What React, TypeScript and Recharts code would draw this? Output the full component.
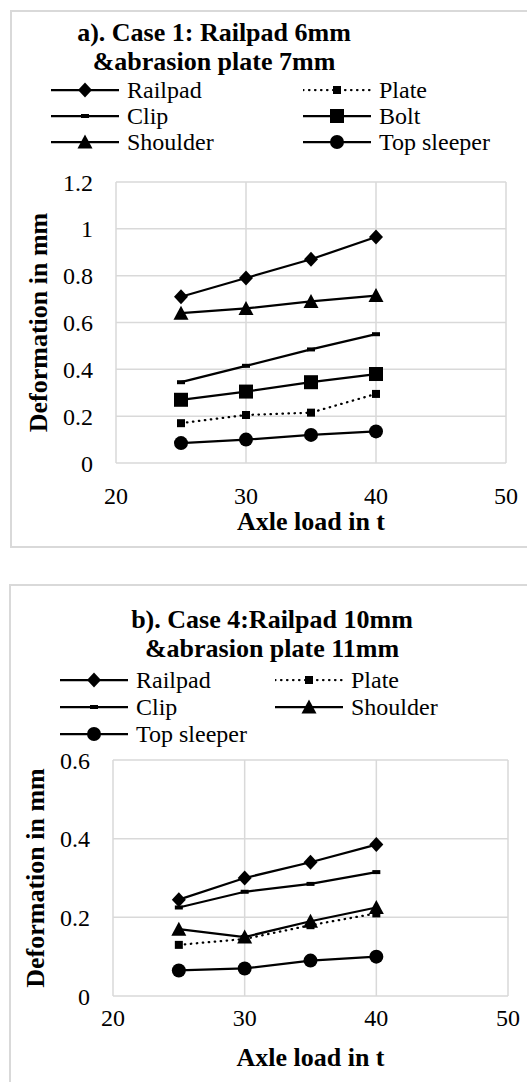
import React from "react";
import { LineChart, Line, XAxis, YAxis, CartesianGrid, Legend } from "recharts";

// axle loads (t)
const loads = [25, 30, 35, 40];
const xTicks = [20, 30, 40, 50];

// a) Case 1: railpad 6mm & abrasion plate 7mm
const railpadA = [0.71, 0.79, 0.87, 0.965];
const plateA = [0.17, 0.205, 0.215, 0.295];
const clipA = [0.345, 0.415, 0.485, 0.55];
const boltA = [0.27, 0.305, 0.345, 0.38];
const shoulderA = [0.64, 0.66, 0.69, 0.715];
const topSleeperA = [0.085, 0.1, 0.12, 0.135];
const yTicksA = [0, 0.2, 0.4, 0.6, 0.8, 1, 1.2];

// b) Case 4: railpad 10mm & abrasion plate 11mm
const railpadB = [0.245, 0.3, 0.34, 0.385];
const plateB = [0.13, 0.145, 0.18, 0.21];
const clipB = [0.225, 0.265, 0.285, 0.315];
const shoulderB = [0.17, 0.15, 0.19, 0.225];
const topSleeperB = [0.065, 0.07, 0.09, 0.1];
const yTicksB = [0, 0.2, 0.4, 0.6];

const FONT = "'Times New Roman', Times, 'Liberation Serif', Tinos, 'Nimbus Roman', 'Noto Serif', FreeSerif, 'DejaVu Serif', serif";
const GRID = "#d9d9d9";

type Shape = "diamond" | "smallSquare" | "dash" | "square" | "triangle" | "circle";

interface SeriesDef {
  key: string;
  name: string;
  values: number[];
  shape: Shape;
  dotted?: boolean;
}

const seriesA: SeriesDef[] = [
  { key: "railpad", name: "Railpad", values: railpadA, shape: "diamond" },
  { key: "plate", name: "Plate", values: plateA, shape: "smallSquare", dotted: true },
  { key: "clip", name: "Clip", values: clipA, shape: "dash" },
  { key: "bolt", name: "Bolt", values: boltA, shape: "square" },
  { key: "shoulder", name: "Shoulder", values: shoulderA, shape: "triangle" },
  { key: "topSleeper", name: "Top sleeper", values: topSleeperA, shape: "circle" },
];

const seriesB: SeriesDef[] = [
  { key: "railpad", name: "Railpad", values: railpadB, shape: "diamond" },
  { key: "plate", name: "Plate", values: plateB, shape: "smallSquare", dotted: true },
  { key: "clip", name: "Clip", values: clipB, shape: "dash" },
  { key: "shoulder", name: "Shoulder", values: shoulderB, shape: "triangle" },
  { key: "topSleeper", name: "Top sleeper", values: topSleeperB, shape: "circle" },
];

function buildRows(series: SeriesDef[]) {
  return loads.map((load, i) => {
    const row: Record<string, number> = { load };
    series.forEach((s) => (row[s.key] = s.values[i]));
    return row;
  });
}

function Marker({ shape, cx, cy }: { shape: Shape; cx: number; cy: number }) {
  switch (shape) {
    case "diamond":
      return <polygon points={`${cx},${cy - 7.5} ${cx + 7},${cy} ${cx},${cy + 7.5} ${cx - 7},${cy}`} fill="#000" />;
    case "smallSquare":
      return <rect x={cx - 4} y={cy - 4} width={8} height={8} fill="#000" />;
    case "dash":
      return <rect x={cx - 4} y={cy - 2} width={8} height={4} fill="#000" />;
    case "square":
      return <rect x={cx - 7} y={cy - 7} width={14} height={14} fill="#000" />;
    case "triangle":
      return <polygon points={`${cx},${cy - 7.5} ${cx + 7.5},${cy + 6.5} ${cx - 7.5},${cy + 6.5}`} fill="#000" />;
    default:
      return <circle cx={cx} cy={cy} r={7} fill="#000" />;
  }
}

interface PanelProps {
  series: SeriesDef[];
  yMax: number;
  yTicks: number[];
  top: number;
  height: number;
  plotTop: number;
  plotBottom: number;
  plotLeft: number;
  plotRight: number;
  frame: { left: number; top: number; height: number };
  title: string[];
  titleX: number;
  titleBaseline: number;
  legendCols: number[];
  legendRows: number[];
  xTickMargin: number;
  xLabelDy: number;
  yLabelX: number;
}

function Panel(p: PanelProps) {
  const data = buildRows(p.series);
  const width = 527;
  const order = (key: string) => p.series.findIndex((s) => s.key === key);
  return (
    <>
      <div
        style={{
          position: "absolute",
          left: p.frame.left,
          top: p.frame.top,
          width: 600,
          height: p.frame.height,
          border: `2px solid ${GRID}`,
          boxSizing: "border-box",
        }}
      />
      <div
        style={{
          position: "absolute",
          left: p.titleX - 200,
          top: p.titleBaseline - 23.3,
          width: 400,
          textAlign: "center",
          fontFamily: FONT,
          fontWeight: "bold",
          fontSize: 26,
          lineHeight: "29px",
          color: "#000",
        }}
      >
        {p.title.map((t) => (
          <div key={t}>{t}</div>
        ))}
      </div>
      <div style={{ position: "absolute", left: 0, top: p.top }}>
        <LineChart
          width={width}
          height={p.height}
          data={data}
          margin={{ top: p.plotTop - p.top, right: width - p.plotRight, left: 0, bottom: 0 }}
        >
          <CartesianGrid stroke={GRID} strokeWidth={1.5} />
          <XAxis
            dataKey="load"
            type="number"
            domain={[20, 50]}
            ticks={xTicks}
            interval={0}
            axisLine={false}
            tickLine={false}
            tickSize={0}
            tickMargin={p.xTickMargin}
            height={p.top + p.height - p.plotBottom}
            tick={{ fontSize: 24, fill: "#000", fontFamily: FONT }}
            label={{
              content: ({ viewBox }: any) => (
                <text
                  x={viewBox.x + viewBox.width / 2}
                  y={viewBox.y + p.xLabelDy}
                  textAnchor="middle"
                  fontFamily={FONT}
                  fontWeight="bold"
                  fontSize={26}
                  fill="#000"
                >
                  Axle load in t
                </text>
              ),
            }}
          />
          <YAxis
            type="number"
            domain={[0, p.yMax]}
            ticks={p.yTicks}
            interval={0}
            width={p.plotLeft}
            axisLine={false}
            tickLine={false}
            tickSize={0}
            tickMargin={23}
            tick={{ fontSize: 24, fill: "#000", fontFamily: FONT }}
            label={{
              content: ({ viewBox }: any) => {
                const cx = viewBox.x + p.yLabelX;
                const cy = viewBox.y + viewBox.height / 2;
                return (
                  <text
                    x={cx}
                    y={cy}
                    transform={`rotate(-90 ${cx} ${cy})`}
                    textAnchor="middle"
                    dominantBaseline="central"
                    fontFamily={FONT}
                    fontWeight="bold"
                    fontSize={26}
                    fill="#000"
                  >
                    Deformation in mm
                  </text>
                );
              },
            }}
          />
          <Legend
            layout="horizontal"
            verticalAlign="middle"
            align="center"
            itemSorter={null as any}
            wrapperStyle={{ top: 0, left: 0, width, height: 0, overflow: "visible" }}
            content={({ payload }: any) => {
              const items = [...(payload || [])].sort(
                (a: any, b: any) => order(a.dataKey) - order(b.dataKey)
              );
              return (
                <div style={{ position: "relative" }}>
                  {items.map((entry: any, i: number) => {
                    const s = p.series[order(entry.dataKey)] || p.series[i];
                    const col = i % 2;
                    const row = Math.floor(i / 2);
                    return (
                      <div
                        key={s.key}
                        style={{
                          position: "absolute",
                          left: p.legendCols[col],
                          top: p.legendRows[row] - p.top - 13,
                          height: 26,
                          display: "flex",
                          alignItems: "center",
                          whiteSpace: "nowrap",
                        }}
                      >
                        <svg width={68} height={26}>
                          <line
                            x1={0}
                            y1={13}
                            x2={68}
                            y2={13}
                            stroke="#000"
                            strokeWidth={2.25}
                            strokeDasharray={s.dotted ? "0.5 5.5" : undefined}
                            strokeLinecap={s.dotted ? "round" : "butt"}
                          />
                          <Marker shape={s.shape} cx={34} cy={13} />
                        </svg>
                        <span
                          style={{
                            marginLeft: 8,
                            fontFamily: FONT,
                            fontSize: 24,
                            lineHeight: "26px",
                            color: "#000",
                          }}
                        >
                          {entry.value}
                        </span>
                      </div>
                    );
                  })}
                </div>
              );
            }}
          />
          {p.series.map((s) => (
            <Line
              key={s.key}
              type="linear"
              dataKey={s.key}
              name={s.name}
              stroke="#000"
              strokeWidth={2.25}
              strokeDasharray={s.dotted ? "0.5 5.5" : undefined}
              strokeLinecap={s.dotted ? "round" : "butt"}
              dot={(d: any) => <Marker key={`${s.key}-${d.index}`} shape={s.shape} cx={d.cx} cy={d.cy} />}
              activeDot={false}
              isAnimationActive={false}
            />
          ))}
        </LineChart>
      </div>
    </>
  );
}

export default function App() {
  return (
    <div
      style={{
        position: "absolute",
        left: 0,
        top: 0,
        width: 527,
        height: 1082,
        overflow: "hidden",
        background: "#fff",
      }}
    >
      <Panel
        series={seriesA}
        yMax={1.2}
        yTicks={yTicksA}
        top={0}
        height={548}
        plotTop={182}
        plotBottom={463}
        plotLeft={116}
        plotRight={506}
        frame={{ left: 10, top: 10, height: 538 }}
        title={["a). Case 1: Railpad 6mm", "&abrasion plate 7mm"]}
        titleX={214}
        titleBaseline={41}
        legendCols={[51, 303]}
        legendRows={[90, 116, 142]}
        xTickMargin={24}
        xLabelDy={67}
        yLabelX={38}
      />
      <Panel
        series={seriesB}
        yMax={0.6}
        yTicks={yTicksB}
        top={560}
        height={522}
        plotTop={760}
        plotBottom={996}
        plotLeft={113}
        plotRight={508}
        frame={{ left: 9, top: 584, height: 600 }}
        title={["b). Case 4:Railpad 10mm", "&abrasion plate 11mm"]}
        titleX={272}
        titleBaseline={628}
        legendCols={[60, 275]}
        legendRows={[680, 707, 734]}
        xTickMargin={13}
        xLabelDy={70}
        yLabelX={35}
      />
    </div>
  );
}
